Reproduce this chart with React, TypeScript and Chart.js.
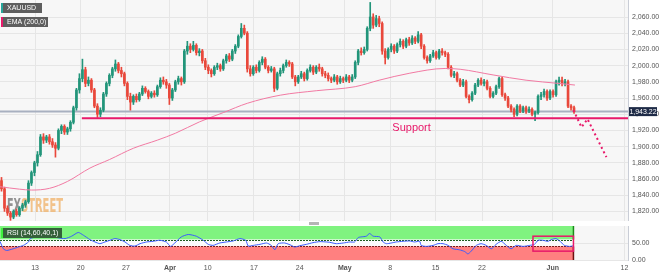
import React, { useEffect, useRef } from 'react';
import { Chart, registerables } from 'chart.js';
Chart.register(...registerables);

// ---------- data ----------
// candle index -> [open, high, low, close]
const candles: number[][] = [
  [1858,1862,1845,1848],[1848,1850,1820,1824],[1824,1827,1815,1818],[1818,1820,1809,1813],[1813,1822,1811,1820],
  [1820,1823,1814,1816],[1816,1826,1814,1824],[1824,1830,1821,1828],[1828,1834,1825,1832],[1832,1858,1830,1855],
  [1855,1870,1852,1868],[1868,1882,1864,1880],[1880,1894,1876,1890],[1890,1915,1888,1912],[1912,1916,1904,1908],
  [1908,1914,1905,1912],[1912,1915,1903,1906],[1906,1910,1899,1902],[1902,1905,1887,1898],[1898,1922,1896,1920],
  [1920,1927,1916,1925],[1925,1927,1915,1918],[1918,1924,1915,1922],[1922,1932,1919,1930],[1930,1950,1928,1948],
  [1948,1972,1945,1970],[1970,1990,1966,1984],[1984,2008,1980,1995],[1995,1998,1974,1978],[1978,1986,1975,1982],
  [1982,1984,1967,1970],[1970,1972,1948,1950],[1950,1953,1936,1940],[1940,1948,1937,1945],[1945,1967,1943,1965],
  [1965,1980,1962,1978],[1978,1990,1975,1988],[1988,1998,1985,1996],[1996,2007,1993,2002],[2002,2004,1991,1994],
  [1994,1998,1986,1990],[1990,1992,1975,1978],[1978,1980,1958,1962],[1962,1966,1945,1955],[1955,1964,1952,1962],
  [1962,1965,1955,1958],[1958,1967,1956,1965],[1965,1975,1963,1972],[1972,1974,1966,1968],[1968,1970,1959,1962],
  [1962,1968,1960,1966],[1966,1969,1961,1964],[1964,1976,1962,1974],[1974,1985,1972,1982],[1982,1986,1977,1980],
  [1980,1983,1972,1976],[1976,1978,1952,1960],[1960,1972,1957,1970],[1970,1982,1968,1980],[1980,1987,1977,1984],
  [1984,1986,1976,1980],[1980,2020,1978,2018],[2018,2030,2014,2024],[2024,2027,2016,2020],[2020,2030,2018,2025],
  [2025,2027,2013,2016],[2016,2021,2012,2018],[2018,2020,2003,2006],[2006,2009,1995,1998],[1998,2001,1990,1994],
  [1994,1996,1986,1990],[1990,2000,1988,1998],[1998,2003,1995,2000],[2000,2002,1993,1996],[1996,2008,1994,2006],
  [2006,2014,2003,2012],[2012,2015,2005,2008],[2008,2020,2006,2018],[2018,2026,2015,2024],[2024,2038,2022,2036],
  [2036,2052,2034,2046],[2046,2050,2038,2040],[2040,2042,1992,1996],[1996,2000,1987,1990],[1990,2000,1988,1998],
  [1998,2001,1991,1994],[1994,2006,1992,2004],[2004,2011,2001,2008],[2008,2010,1996,1998],[1998,2000,1991,1994],
  [1994,1999,1992,1996],[1996,1998,1968,1972],[1972,1992,1970,1990],[1990,1997,1987,1994],[1994,2002,1991,2000],
  [2000,2007,1998,2004],[2004,2006,1999,2002],[2002,2004,1984,1986],[1986,1988,1975,1980],[1980,1988,1978,1986],
  [1986,1993,1984,1990],[1990,1992,1981,1984],[1984,1996,1982,1994],[1994,2001,1992,1998],[1998,2000,1989,1992],
  [1992,2000,1990,1998],[1998,2002,1993,1996],[1996,1998,1987,1990],[1990,1993,1985,1988],[1988,1991,1981,1984],
  [1984,1986,1979,1982],[1982,1989,1980,1986],[1986,1988,1977,1980],[1980,1987,1978,1984],[1984,1986,1979,1982],
  [1982,1989,1980,1986],[1986,1988,1979,1982],[1982,1989,1980,1986],[1986,2006,1984,2004],[2004,2020,2001,2018],
  [2018,2022,2013,2016],[2016,2023,2014,2020],[2020,2048,2018,2046],[2046,2078,2043,2060],[2060,2064,2046,2050],
  [2050,2062,2048,2058],[2058,2061,2048,2052],[2052,2054,2014,2018],[2018,2021,2002,2010],[2010,2022,2008,2020],
  [2020,2027,2017,2024],[2024,2026,2015,2018],[2018,2028,2016,2026],[2026,2033,2023,2030],[2030,2032,2021,2024],
  [2024,2034,2022,2032],[2032,2035,2025,2028],[2028,2037,2026,2034],[2034,2036,2027,2030],[2030,2042,2028,2038],
  [2038,2040,2021,2024],[2024,2026,2008,2010],[2010,2012,2003,2006],[2006,2014,2004,2012],[2012,2019,2010,2016],
  [2016,2018,2008,2010],[2010,2020,2008,2018],[2018,2021,2013,2016],[2016,2018,2011,2014],[2014,2016,1996,1998],
  [1998,2000,1986,1988],[1988,1993,1985,1990],[1990,1992,1980,1982],[1982,1984,1974,1976],[1976,1983,1974,1980],
  [1980,1982,1960,1962],[1962,1964,1954,1958],[1958,1968,1956,1966],[1966,1978,1964,1976],[1976,1984,1974,1982],
  [1982,1985,1976,1978],[1978,1983,1975,1980],[1980,1982,1970,1972],[1972,1974,1960,1962],[1962,1968,1960,1966],
  [1966,1976,1964,1974],[1974,1986,1972,1984],[1984,1986,1962,1964],[1964,1966,1957,1960],[1960,1962,1948,1950],
  [1950,1952,1943,1946],[1946,1948,1937,1940],[1940,1952,1938,1950],[1950,1952,1942,1944],[1944,1950,1942,1948],
  [1948,1950,1941,1944],[1944,1949,1942,1946],[1946,1948,1938,1940],[1940,1944,1932,1942],[1942,1964,1940,1962],
  [1962,1967,1958,1964],[1964,1971,1961,1968],[1968,1970,1957,1960],[1960,1970,1958,1968],[1968,1970,1961,1964],
  [1964,1982,1962,1980],[1980,1986,1976,1982],[1982,1986,1975,1978],[1978,1983,1975,1980],[1980,1982,1948,1950],
  [1950,1952,1945,1948],[1948,1950,1941,1943.22],
];

const emaX = [-0.5, 6, 10, 16, 22, 29.5, 36, 44, 52, 58, 66, 74, 82, 93, 105, 118, 126, 136, 148, 153, 164, 175, 186, 191.3];
const emaY = [1850.5, 1847.5, 1846.4, 1848.5, 1857, 1873.5, 1884, 1898, 1908, 1916.5, 1930.5, 1942, 1953.5, 1963.5, 1969, 1974, 1982, 1990.5, 1996.5, 1995.5, 1988.5, 1982, 1978, 1976];

const rsiX = [-0.5,0.6,1.7,3.9,5.6,7.3,9,9.6,11.7,13.9,16.2,18.4,21.2,23.4,25.6,27.3,29.5,31.2,32.8,34.5,36.2,37.8,39.5,41.2,42.8,44.5,46.2,48.4,50.6,52.8,55,56.4,57.8,60,62.3,65,67.3,69,70.6,72.8,75,77.3,79.5,81.5,82.3,84,86.2,88.4,90,91.2,92.3,94.5,96.7,97.8,99.5,101.7,103.9,106.2,108.4,109.5,111.7,114,116.2,117.8,119,120,121.7,122.8,124,126.2,127.3,128.4,130,131.7,134,136.2,137.8,139.5,140,141.7,144,145.6,147.3,149,150.6,152.8,154.5,155.6,156.7,158.4,160,161.7,163.4,165,166.7,168.4,170,171.7,174,176.2,177.8,179,180.6,182.3,183.4,185,186.2,187.8,189.5,190.8];
const rsiY = [55,33,28,33,38,43,53,63,68,73,70,66,63,70,81,73,60,53,48,53,58,63,60,53,43,41,48,53,55,58,53,40,50,68,75,70,58,46,43,50,53,56,63,58,41,43,46,50,43,30,48,50,43,38,42,46,51,54,53,52,48,50,53,53,66,68,70,78,70,68,53,48,50,53,55,56,53,55,43,40,43,48,48,43,33,30,25,18,26,43,48,43,33,46,55,43,33,43,40,43,46,58,58,55,60,63,56,43,40,42];

const tickPos = [11.2, 26.4, 41.5, 56.2, 68.8, 84.2, 99.5, 114.5, 129.7, 144.8, 160.3, 183.9, 207.8];
const tickLabels = ['13', '20', '27', 'Apr', '10', '17', '24', 'May', '8', '15', '22', 'Jun', '12'];
const monthLabels = ['Apr', 'May', 'Jun'];
const priceTicks = [1820, 1840, 1860, 1880, 1900, 1920, 1940, 1960, 1980, 2000, 2020, 2040, 2060];
const rsiTicks = [0, 50];

const lastPrice = 1943.22;
const supportLevel = 1935;
const supportStartX = 26.8;
const supportLabelX = 136.8;
const supportLabelY = 1922.5;
const projX = [190.8, 193.5, 195.5, 201.8];
const projY = [1945, 1924, 1934, 1887];
const rsiUpper = 60;
const rsiLower = 40;
const rsiEndX = 190.8;
const rsiBoxX = [177.3, 190.8];
const rsiBoxY = [26, 70];

const X_MIN = -0.5;
const X_MAX = 209;
const Y_MIN = 1808.2;
const Y_MAX = 2081;

// ---------- styles ----------
const UP = '#22957a';
const DOWN = '#e9483b';
const PINK = '#e8196a';
const GRID = '#e6e6e6';
const PLOT_BG = '#f7f7f7';
const FONT = "'Liberation Sans', Arial, sans-serif";

const fmt = (v: number) =>
  Number(v).toLocaleString('en-US', { minimumFractionDigits: 2, maximumFractionDigits: 2 });

const zeroPad = (s: any) => {
  s.paddingTop = 0;
  s.paddingBottom = 0;
  s.paddingLeft = 0;
  s.paddingRight = 0;
};

function drawTag(ctx: CanvasRenderingContext2D, x: number, y: number, w: number, h: number, bg: string, bar: string, text: string) {
  ctx.save();
  ctx.fillStyle = bg;
  ctx.fillRect(x, y, w, h);
  ctx.fillStyle = bar;
  ctx.fillRect(x, y, 2, h);
  ctx.fillStyle = '#ffffff';
  ctx.font = `7px ${FONT}`;
  ctx.textBaseline = 'middle';
  ctx.textAlign = 'left';
  ctx.fillText(text, x + 6, y + h / 2 + 0.5);
  ctx.restore();
}

const mainPlugin = {
  id: 'mainDeco',
  beforeDraw(chart: any) {
    const { ctx, chartArea: a } = chart;
    ctx.save();
    ctx.fillStyle = PLOT_BG;
    ctx.fillRect(a.left, a.top, a.right - a.left, a.bottom - a.top);
    ctx.restore();
  },
  beforeDatasetsDraw(chart: any) {
    const { ctx } = chart;
    ctx.save();
    ctx.font = `bold 19px 'DejaVu Sans Condensed', 'Liberation Sans Narrow', sans-serif`;
    ctx.textBaseline = 'alphabetic';
    ctx.fillStyle = 'rgba(120,120,120,0.8)';
    ctx.fillText('FX', 7, 212, 14);
    ctx.fillStyle = 'rgba(240,180,110,0.8)';
    ctx.fillText('STREET', 21, 212, 42);
    ctx.restore();
  },
  afterDatasetsDraw(chart: any) {
    const { ctx, scales } = chart;
    const x = scales.x.getPixelForValue(supportLabelX);
    const y = scales.y.getPixelForValue(supportLabelY);
    ctx.save();
    ctx.font = `11px ${FONT}`;
    ctx.fillStyle = PINK;
    ctx.textAlign = 'center';
    ctx.textBaseline = 'middle';
    ctx.fillText('Support', x, y);
    ctx.restore();
  },
  afterDraw(chart: any) {
    const { ctx, scales } = chart;
    drawTag(ctx, 1, 3, 41, 10, '#5e5e5e', '#26a69a', 'XAUUSD');
    drawTag(ctx, 1, 17, 47, 10, '#5e5e5e', PINK, 'EMA (200,0)');
    const y = scales.y.getPixelForValue(lastPrice);
    ctx.save();
    ctx.fillStyle = '#1e2b47';
    ctx.fillRect(629, y - 4.5, 28, 9);
    ctx.fillStyle = '#ffffff';
    ctx.font = `7px ${FONT}`;
    ctx.textAlign = 'center';
    ctx.textBaseline = 'middle';
    ctx.fillText(fmt(lastPrice), 643, y + 0.5);
    ctx.restore();
  },
};

const rsiPlugin = {
  id: 'rsiDeco',
  beforeDraw(chart: any) {
    const { ctx, chartArea: a } = chart;
    ctx.save();
    ctx.fillStyle = PLOT_BG;
    ctx.fillRect(a.left, a.top, a.right - a.left, a.bottom - a.top);
    ctx.restore();
  },
  beforeDatasetsDraw(chart: any) {
    const { ctx, scales } = chart;
    const xs = scales.x, ys = scales.y;
    const x0 = xs.getPixelForValue(X_MIN);
    const x1 = xs.getPixelForValue(rsiEndX);
    const yTop = ys.getPixelForValue(100);
    const yUp = ys.getPixelForValue(rsiUpper);
    const yLo = ys.getPixelForValue(rsiLower);
    const yBot = ys.getPixelForValue(0);
    ctx.save();
    ctx.fillStyle = '#80f380';
    ctx.fillRect(x0, yTop, x1 - x0, yUp - yTop);
    ctx.fillStyle = '#fbfbfb';
    ctx.fillRect(x0, yUp, x1 - x0, yLo - yUp);
    ctx.fillStyle = '#ff8080';
    ctx.fillRect(x0, yLo, x1 - x0, yBot - yLo);
    ctx.lineWidth = 1;
    ctx.setLineDash([2, 1]);
    ctx.strokeStyle = '#1d5e1d';
    ctx.beginPath();
    ctx.moveTo(x0, Math.round(yUp) + 0.5);
    ctx.lineTo(x1, Math.round(yUp) + 0.5);
    ctx.stroke();
    ctx.strokeStyle = '#7a1c1c';
    ctx.beginPath();
    ctx.moveTo(x0, Math.round(yLo) + 0.5);
    ctx.lineTo(x1, Math.round(yLo) + 0.5);
    ctx.stroke();
    ctx.setLineDash([]);
    ctx.lineWidth = 1.5;
    ctx.strokeStyle = '#1a8a1a';
    ctx.beginPath();
    ctx.moveTo(x1, yTop);
    ctx.lineTo(x1, yUp);
    ctx.stroke();
    ctx.strokeStyle = '#6e1010';
    ctx.beginPath();
    ctx.moveTo(x1, yLo);
    ctx.lineTo(x1, yBot);
    ctx.stroke();
    ctx.restore();
  },
  afterDatasetsDraw(chart: any) {
    const { ctx, scales } = chart;
    const xs = scales.x, ys = scales.y;
    const bx0 = xs.getPixelForValue(rsiBoxX[0]);
    const bx1 = xs.getPixelForValue(rsiBoxX[1]);
    const by0 = ys.getPixelForValue(rsiBoxY[1]);
    const by1 = ys.getPixelForValue(rsiBoxY[0]);
    ctx.save();
    ctx.strokeStyle = PINK;
    ctx.lineWidth = 1.5;
    ctx.strokeRect(bx0, by0, bx1 - bx0, by1 - by0);
    ctx.restore();
    drawTag(ctx, 1, 4, 61, 10, '#35603a', '#3df03d', 'RSI (14,60,40,1)');
  },
};

export default function App() {
  const mainRef = useRef<HTMLCanvasElement>(null);
  const rsiRef = useRef<HTMLCanvasElement>(null);

  useEffect(() => {
    document.body.style.margin = '0';
    Chart.defaults.font.family = FONT;
    Chart.defaults.font.size = 7;

    const bodies = candles.map((c, i) => ({ x: i, y: [Math.min(c[0], c[3]), Math.max(c[0], c[3])] }));
    const wicks = candles.map((c, i) => ({ x: i, y: [c[2], c[1]] }));
    const colorFor = (ctx: any) => {
      const c = candles[ctx.dataIndex];
      return c && c[3] >= c[0] ? UP : DOWN;
    };

    const main = new Chart(mainRef.current as HTMLCanvasElement, {
      type: 'bar',
      data: {
        datasets: [
          {
            type: 'line',
            data: [{ x: X_MIN, y: lastPrice }, { x: X_MAX, y: lastPrice }],
            borderColor: '#a8b0c0',
            borderWidth: 2,
            pointRadius: 0,
            order: 5,
          } as any,
          {
            type: 'bar',
            data: wicks,
            backgroundColor: colorFor,
            grouped: false,
            barThickness: 1,
            maxBarThickness: 1,
            order: 3,
          } as any,
          {
            type: 'bar',
            data: bodies,
            backgroundColor: colorFor,
            grouped: false,
            barThickness: 2,
            maxBarThickness: 2,
            minBarLength: 1,
            order: 2,
          } as any,
          {
            type: 'line',
            data: emaX.map((x, i) => ({ x, y: emaY[i] })),
            borderColor: '#f27aa3',
            borderWidth: 1,
            pointRadius: 0,
            cubicInterpolationMode: 'monotone',
            order: 1,
          } as any,
          {
            type: 'line',
            data: [{ x: supportStartX, y: supportLevel }, { x: X_MAX, y: supportLevel }],
            borderColor: PINK,
            borderWidth: 2,
            pointRadius: 0,
            order: 0,
          } as any,
          {
            type: 'line',
            data: projX.map((x, i) => ({ x, y: projY[i] })),
            borderColor: PINK,
            borderWidth: 2,
            borderDash: [2, 3],
            pointRadius: 0,
            order: 0,
          } as any,
        ],
      },
      options: {
        responsive: false,
        animation: false,
        events: [],
        layout: { padding: 0 },
        plugins: { legend: { display: false }, tooltip: { enabled: false } },
        scales: {
          x: {
            type: 'linear',
            min: X_MIN,
            max: X_MAX,
            offset: false,
            grid: { offset: false, color: GRID, drawTicks: false },
            border: { display: false },
            ticks: { display: false },
            afterBuildTicks: (s: any) => { s.ticks = tickPos.map((v) => ({ value: v })); },
            afterFit: (s: any) => { s.height = 0; zeroPad(s); },
          },
          y: {
            type: 'linear',
            position: 'right',
            min: Y_MIN,
            max: Y_MAX,
            grid: { color: GRID, drawTicks: false },
            border: { color: '#c9cdd6' },
            ticks: { padding: 4, color: '#555555', font: { size: 7 }, callback: (v: any) => fmt(v) },
            afterBuildTicks: (s: any) => { s.ticks = priceTicks.map((v) => ({ value: v })); },
            afterFit: (s: any) => { s.width = 36; zeroPad(s); },
          },
        },
      } as any,
      plugins: [mainPlugin],
    });

    const rsi = new Chart(rsiRef.current as HTMLCanvasElement, {
      type: 'line',
      data: {
        datasets: [
          {
            data: rsiX.map((x, i) => ({ x, y: rsiY[i] })),
            borderColor: '#3a5bff',
            borderWidth: 1,
            pointRadius: 0,
            tension: 0.2,
          },
        ],
      },
      options: {
        responsive: false,
        animation: false,
        events: [],
        layout: { padding: { top: 2 } },
        plugins: { legend: { display: false }, tooltip: { enabled: false } },
        scales: {
          x: {
            type: 'linear',
            min: X_MIN,
            max: X_MAX,
            grid: { color: GRID, drawTicks: false },
            border: { display: false },
            ticks: {
              autoSkip: false,
              maxRotation: 0,
              padding: 4,
              color: '#555555',
              font: (c: any) => ({
                size: 7,
                weight: c.tick && monthLabels.includes(tickLabels[c.index]) ? 'bold' : 'normal',
              }),
              callback: (_v: any, idx: number) => tickLabels[idx],
            },
            afterBuildTicks: (s: any) => { s.ticks = tickPos.map((v) => ({ value: v })); },
            afterFit: (s: any) => { s.height = 13; zeroPad(s); },
          },
          y: {
            type: 'linear',
            position: 'right',
            min: 0,
            max: 100,
            grid: { color: GRID, drawTicks: false },
            border: { color: '#c9cdd6' },
            ticks: { padding: 4, color: '#555555', font: { size: 7 }, callback: (v: any) => fmt(v) },
            afterBuildTicks: (s: any) => { s.ticks = rsiTicks.map((v) => ({ value: v })); },
            afterFit: (s: any) => { s.width = 36; zeroPad(s); },
          },
        },
      } as any,
      plugins: [rsiPlugin],
    });

    return () => {
      main.destroy();
      rsi.destroy();
    };
  }, []);

  return (
    <div style={{ position: 'absolute', left: 0, top: 0, width: 664, height: 273, background: '#ffffff', overflow: 'hidden' }}>
      <canvas ref={mainRef} width={664} height={221} style={{ position: 'absolute', left: 0, top: 0, width: 664, height: 221 }} />
      <div style={{ position: 'absolute', left: 309, top: 222, width: 10, height: 3, background: '#b5b5b5' }} />
      <canvas ref={rsiRef} width={664} height={49} style={{ position: 'absolute', left: 0, top: 224, width: 664, height: 49 }} />
    </div>
  );
}
